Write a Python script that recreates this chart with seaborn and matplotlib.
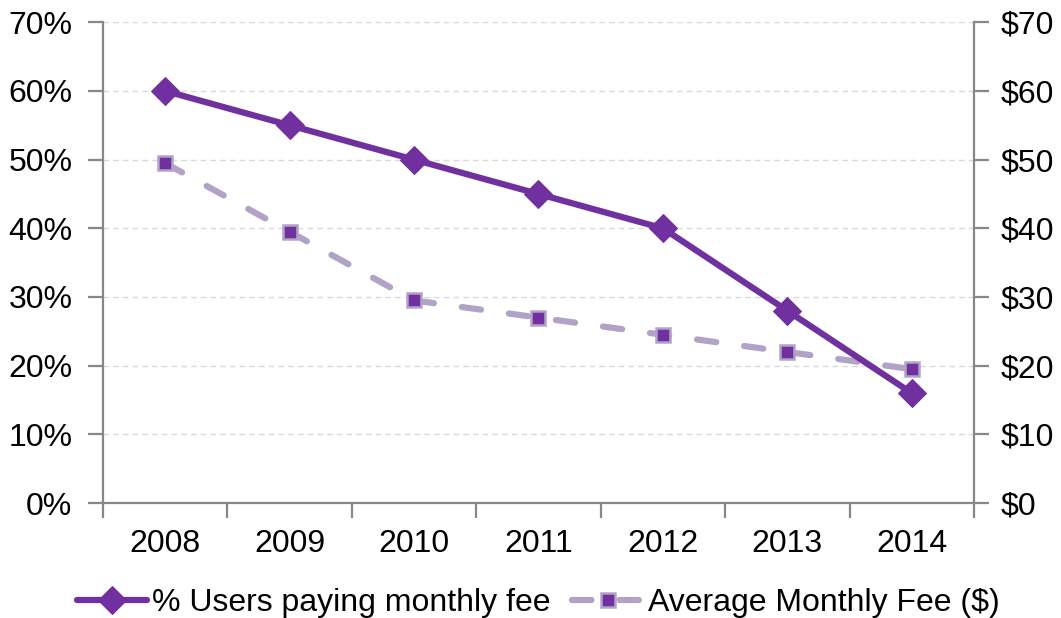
import pandas as pd
import matplotlib.pyplot as plt
import seaborn as sns
from matplotlib.ticker import FuncFormatter, MultipleLocator

# data
years = ['2008', '2009', '2010', '2011', '2012', '2013', '2014']
pct_users = [60, 55, 50, 45, 40, 28, 16]
avg_fee = [49.5, 39.5, 29.5, 27, 24.5, 22, 19.5]

df = pd.DataFrame({'pos': range(len(years)), 'year': years,
                   'pct': pct_users, 'fee': avg_fee})

sns.set_theme(style='white')
plt.rcParams['font.family'] = ['Liberation Sans', 'DejaVu Sans']
plt.rcParams['text.color'] = 'black'

dark = '#7030A0'
light = '#B3A2C7'
spine = '#878787'
fs = 23

fig, ax = plt.subplots(figsize=(10.61, 6.18), dpi=100)
ax2 = ax.twinx()

sns.lineplot(data=df, x='pos', y='pct', ax=ax, color=dark, lw=4.5,
             marker='D', markersize=14, markeredgecolor=dark,
             label='% Users paying monthly fee', legend=False, zorder=3)
sns.lineplot(data=df, x='pos', y='fee', ax=ax2, color=light, lw=4.5,
             dashes=False, marker='s', markersize=10.5, markerfacecolor=dark,
             markeredgecolor=light, markeredgewidth=1.8,
             label='Average Monthly Fee ($)', legend=False, zorder=2)
fee_line = ax2.lines[0]
fee_line.set_dashes([3.1, 4.5])
fee_line.set_dash_capstyle('round')
ax.set_zorder(ax2.get_zorder() + 1)
ax.patch.set_visible(False)

for a in (ax, ax2):
    a.set_ylim(0, 70)
    a.yaxis.set_major_locator(MultipleLocator(10))
    a.set_xlim(-0.5, len(years) - 0.5)
    a.set_xlabel('')
    a.set_ylabel('')
    for s in a.spines.values():
        s.set_visible(False)

ax.yaxis.set_major_formatter(FuncFormatter(lambda v, p: f'{v:.0f}%'))
ax2.yaxis.set_major_formatter(FuncFormatter(lambda v, p: f'${v:.0f}'))
ax2.yaxis.grid(True, ls=(0, (4, 3)), color='#D9D9D9', lw=1, zorder=0)
ax2.set_axisbelow(True)

ax.spines['left'].set_visible(True)
ax.spines['bottom'].set_visible(True)
ax2.spines['right'].set_visible(True)
for s in (ax.spines['left'], ax.spines['bottom'], ax2.spines['right']):
    s.set_color(spine)
    s.set_linewidth(1.6)

ax.set_xticks(range(len(years)))
ax.set_xticklabels(years)
ax.set_xticks([i - 0.5 for i in range(len(years) + 1)], minor=True)
ax.tick_params(axis='x', which='major', length=0, labelsize=fs, pad=19,
               labelcolor='black')
ax.tick_params(axis='x', which='minor', length=11, width=1.6, color=spine,
               direction='out', bottom=True)
ax.tick_params(axis='y', length=11, width=1.6, color=spine, labelsize=fs,
               left=True, pad=11, labelcolor='black')
ax2.tick_params(axis='y', length=11, width=1.6, color=spine, labelsize=fs,
                right=True, pad=8, labelcolor='black')
ax2.tick_params(axis='x', bottom=False, labelbottom=False)

h1, l1 = ax.get_legend_handles_labels()
h2, l2 = ax2.get_legend_handles_labels()
fig.legend(h1 + h2, l1 + l2, loc='lower center', ncol=2, frameon=False,
           fontsize=fs, bbox_to_anchor=(0.507, -0.047), handlelength=2.2,
           handletextpad=0.15, columnspacing=0.7, labelcolor='black')

plt.subplots_adjust(left=0.097, right=0.918, top=0.964, bottom=0.186)
plt.savefig('out.png', dpi=100)
plt.close()
